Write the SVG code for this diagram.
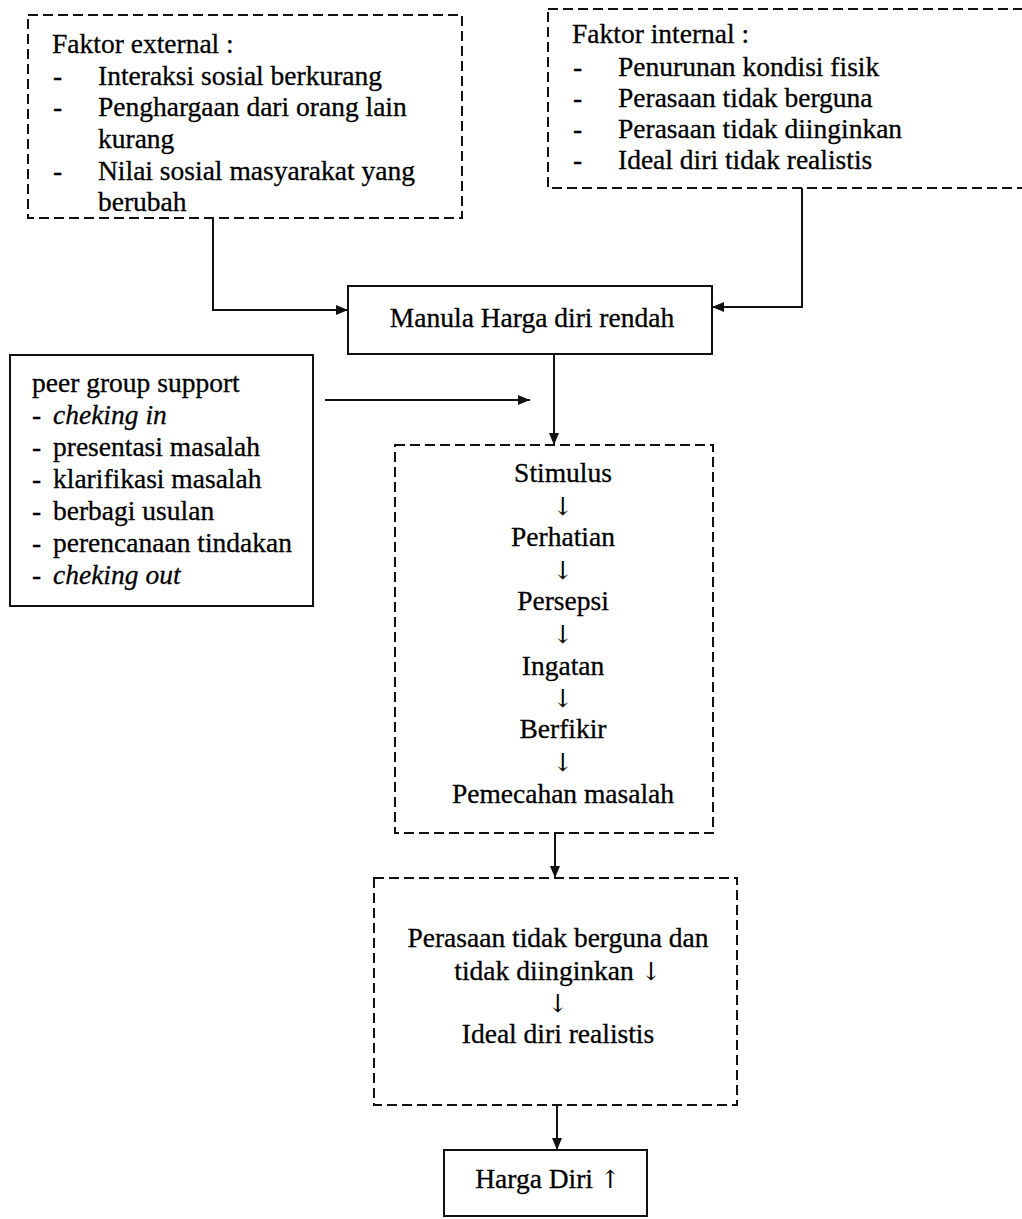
<svg xmlns="http://www.w3.org/2000/svg" width="1022" height="1219" viewBox="0 0 1022 1219">
<style>
text{font-family:"Liberation Serif","Times New Roman",serif;font-size:27.5px;fill:#000;stroke:#000;stroke-width:0.3}
.c{text-anchor:middle}
.it{font-style:italic}
.ar{font-family:"DejaVu Serif",serif;font-size:25px;stroke-width:0}
.dash{fill:none;stroke:#111;stroke-width:2;stroke-dasharray:10 5}
.box{fill:#fff;stroke:#111;stroke-width:2}
.ln{fill:none;stroke:#111;stroke-width:2}
</style>
<defs>
<marker id="ah" viewBox="0 0 12 10" refX="12" refY="5" markerWidth="12" markerHeight="10" markerUnits="userSpaceOnUse" orient="auto">
<path d="M0,0 L12,5 L0,10 Z" fill="#111"/>
</marker>
</defs>
<rect width="1022" height="1219" fill="#fff"/>

<g id="faktor-external">
<rect class="dash" x="28" y="15" width="434" height="203"/>
<text x="52" y="53">Faktor external :</text>
<text x="53" y="85">-</text><text x="98" y="85">Interaksi sosial berkurang</text>
<text x="53" y="116">-</text><text x="98" y="116">Penghargaan dari orang lain</text>
<text x="98" y="148">kurang</text>
<text x="53" y="180">-</text><text x="98" y="180">Nilai sosial masyarakat yang</text>
<text x="98" y="211">berubah</text>
</g>

<g id="faktor-internal">
<rect class="dash" x="548" y="9" width="480" height="179"/>
<text x="572" y="43">Faktor internal :</text>
<text x="573" y="76">-</text><text x="618" y="76">Penurunan kondisi fisik</text>
<text x="573" y="107">-</text><text x="618" y="107">Perasaan tidak berguna</text>
<text x="573" y="138">-</text><text x="618" y="138">Perasaan tidak diinginkan</text>
<text x="573" y="169">-</text><text x="618" y="169">Ideal diri tidak realistis</text>
</g>

<g id="manula">
<rect class="box" x="348" y="286" width="364" height="68"/>
<text class="c" x="532" y="327">Manula Harga diri rendah</text>
</g>

<g id="peer-group">
<rect class="box" x="10" y="355" width="303" height="251"/>
<text x="32" y="392">peer group support</text>
<text x="32" y="424">-</text><text class="it" x="53" y="424">cheking in</text>
<text x="32" y="456">-</text><text x="53" y="456">presentasi masalah</text>
<text x="32" y="488">-</text><text x="53" y="488">klarifikasi masalah</text>
<text x="32" y="520">-</text><text x="53" y="520">berbagi usulan</text>
<text x="32" y="552">-</text><text x="53" y="552">perencanaan tindakan</text>
<text x="32" y="584">-</text><text class="it" x="53" y="584">cheking out</text>
</g>

<g id="proses">
<rect class="dash" x="395" y="445" width="318" height="388"/>
<text class="c" x="563" y="482">Stimulus</text>
<text class="c ar" x="563" y="515">↓</text>
<text class="c" x="563" y="546">Perhatian</text>
<text class="c ar" x="563" y="579">↓</text>
<text class="c" x="563" y="610">Persepsi</text>
<text class="c ar" x="563" y="643">↓</text>
<text class="c" x="563" y="675">Ingatan</text>
<text class="c ar" x="563" y="707">↓</text>
<text class="c" x="563" y="738">Berfikir</text>
<text class="c ar" x="563" y="771">↓</text>
<text class="c" x="563" y="803">Pemecahan masalah</text>
</g>

<g id="hasil">
<rect class="dash" x="374" y="878" width="363" height="227"/>
<text class="c" x="558" y="947">Perasaan tidak berguna dan</text>
<text class="c" x="558" y="980">tidak diinginkan <tspan class="ar">↓</tspan></text>
<text class="c ar" x="558" y="1012">↓</text>
<text class="c" x="558" y="1043">Ideal diri realistis</text>
</g>

<g id="harga-diri">
<rect class="box" x="444" y="1150" width="203" height="66"/>
<text class="c" x="548" y="1188">Harga Diri <tspan class="ar">↑</tspan></text>
</g>

<g id="connectors">
<path class="ln" d="M213,218 V310 H348" marker-end="url(#ah)"/>
<path class="ln" d="M802,188 V307 H712" marker-end="url(#ah)"/>
<path class="ln" d="M325,400 H530" marker-end="url(#ah)"/>
<path class="ln" d="M554,354 V445" marker-end="url(#ah)"/>
<path class="ln" d="M555,833 V878" marker-end="url(#ah)"/>
<path class="ln" d="M557,1105 V1150" marker-end="url(#ah)"/>
</g>
</svg>
